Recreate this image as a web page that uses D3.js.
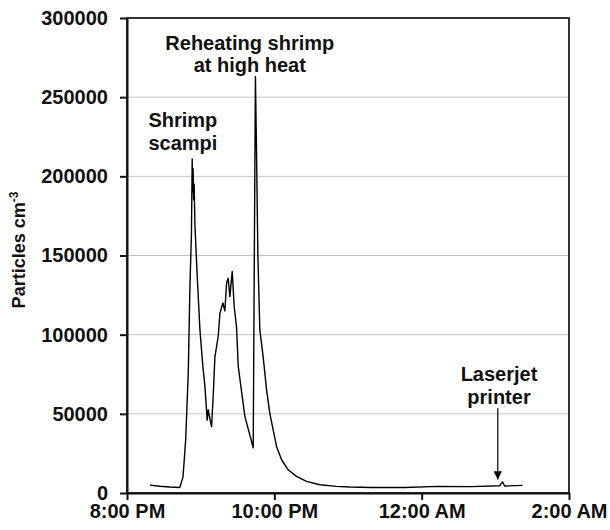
<!DOCTYPE html>
<html>
<head>
    <title>Particle counts</title>
    <script src="https://d3js.org/d3.v7.min.js"></script>
    <style>
        body { margin: 0; background: #fff; }
        text { font-family: "Liberation Sans", Arial, sans-serif; font-weight: bold; fill: #111; }
        .grid line { stroke: #c4c4c4; stroke-width: 1; }
        .axis path, .axis line { stroke: #111; stroke-width: 2; }
        .axis text { font-size: 20px; }
        .frame { fill: none; stroke: #333; stroke-width: 2; }
        .trace { fill: none; stroke: #000; stroke-width: 1.4; stroke-linejoin: round; }
        .note { font-size: 20px; }
    </style>
</head>
<body>
    <svg width="610" height="530"></svg>
    <script>
        // minutes after 8:00 PM and particle number concentration (particles cm-3)
        const minutes = [
            18.7, 26.8, 35, 43, 45.6, 47.8, 49.9, 51.3, 52.5, 53.1, 53.4, 53.8, 54.3, 54.7, 55.3,
            57, 59.4, 61.8, 63.5, 65.3, 66.1, 67.5, 68.9, 70.2, 71.6, 74.3, 75.7, 78.1, 79.7,
            81.1, 82.4, 83.8, 85.7, 87.3, 89.2, 90.6, 96, 102.8, 103.7, 104.6, 105.4, 106.6,
            108.2, 110.9, 113.7, 116.3, 119, 121.8, 125.9, 131.2, 138.1, 146.2, 157, 170.6, 181.4,
            199.3, 226.2, 253, 280.7, 303.5, 305.9, 307.5, 322.2
        ];
        const particles = [
            5000, 4300, 3800, 3500, 10000, 33600, 76000, 132000, 164000, 211000, 190000, 205000, 185000, 195000, 170000,
            140000, 103000, 80000, 67000, 46000, 52600, 47000, 42000, 61000, 86000, 99000, 113600, 120000, 115000,
            132500, 135700, 124000, 140000, 117800, 105000, 80000, 48400, 28600, 150000, 263000, 221000, 150000,
            103000, 86000, 65000, 50500, 40000, 29400, 21000, 14700, 10500, 7300, 5200, 4200, 3800,
            3500, 3500, 4200, 4000, 4600, 7000, 4400, 4800
        ];

        const yTicks = [0, 50000, 100000, 150000, 200000, 250000, 300000];
        const xTickHours = [0, 2, 4, 6];   // hours after 8:00 PM
        const xTickLabels = ["8:00 PM", "10:00 PM", "12:00 AM", "2:00 AM"];

        // annotations: text lines anchored at (minutes after 8 PM, particles)
        const notes = [
            { lines: ["Reheating shrimp", "at high heat"], t: 100, v: 279800 },
            { lines: ["Shrimp", "scampi"], t: 45.5, v: 231000 },
            { lines: ["Laserjet", "printer"], t: 303, v: 70500 }
        ];
        const printerArrow = { t: 302, from: 53500, to: 8500 };

        const margin = { top: 18, right: 41, bottom: 37, left: 127 };
        const width = 610 - margin.left - margin.right;
        const height = 530 - margin.top - margin.bottom;

        const start = new Date(2010, 0, 1, 20, 0);
        const atMinute = m => new Date(start.getTime() + m * 60000);

        const svg = d3.select("svg")
            .append("g")
            .attr("transform", `translate(${margin.left},${margin.top})`);

        const x = d3.scaleTime()
            .domain([start, atMinute(360)])
            .range([0, width]);

        const y = d3.scaleLinear()
            .domain([0, 300000])
            .range([height, 0]);

        svg.append("g")
            .attr("class", "grid")
            .selectAll("line")
            .data(yTicks.slice(1, -1))
            .enter().append("line")
            .attr("x1", 0)
            .attr("x2", width)
            .attr("y1", d => y(d))
            .attr("y2", d => y(d));

        svg.append("rect")
            .attr("class", "frame")
            .attr("width", width)
            .attr("height", height);

        svg.append("g")
            .attr("class", "axis")
            .call(d3.axisLeft(y).tickValues(yTicks).tickFormat(d3.format("d"))
                .tickSize(7).tickPadding(12).tickSizeOuter(0));

        svg.append("g")
            .attr("class", "axis")
            .attr("transform", `translate(0,${height})`)
            .call(d3.axisBottom(x)
                .tickValues(xTickHours.map(h => atMinute(h * 60)))
                .tickFormat((d, i) => xTickLabels[i])
                .tickSize(7).tickPadding(4).tickSizeOuter(0));

        const line = d3.line()
            .x((d, i) => x(atMinute(minutes[i])))
            .y(d => y(d));

        svg.append("path")
            .attr("class", "trace")
            .attr("d", line(particles));

        notes.forEach(n => {
            const t = svg.append("text")
                .attr("class", "note")
                .attr("text-anchor", "middle")
                .attr("x", x(atMinute(n.t)))
                .attr("y", y(n.v));
            n.lines.forEach((s, i) => {
                t.append("tspan")
                    .attr("x", x(atMinute(n.t)))
                    .attr("dy", i === 0 ? 0 : 22.5)
                    .text(s);
            });
        });

        svg.append("defs").append("marker")
            .attr("id", "arrow")
            .attr("viewBox", "0 0 10 10")
            .attr("refX", 10).attr("refY", 5)
            .attr("markerWidth", 7).attr("markerHeight", 7)
            .attr("orient", "auto")
            .append("path")
            .attr("d", "M0,0L10,5L0,10Z")
            .attr("fill", "#000");

        svg.append("line")
            .attr("x1", x(atMinute(printerArrow.t)))
            .attr("x2", x(atMinute(printerArrow.t)))
            .attr("y1", y(printerArrow.from))
            .attr("y2", y(printerArrow.to))
            .attr("stroke", "#000")
            .attr("stroke-width", 1.2)
            .attr("marker-end", "url(#arrow)");

        const yTitle = svg.append("text")
            .attr("transform", `translate(${25 - margin.left},${250 - margin.top}) rotate(-90)`)
            .attr("text-anchor", "middle")
            .style("font-size", "18px");
        yTitle.append("tspan").text("Particles cm");
        yTitle.append("tspan")
            .attr("dy", -7)
            .style("font-size", "12px")
            .text("-3");
    </script>
</body>
</html>
